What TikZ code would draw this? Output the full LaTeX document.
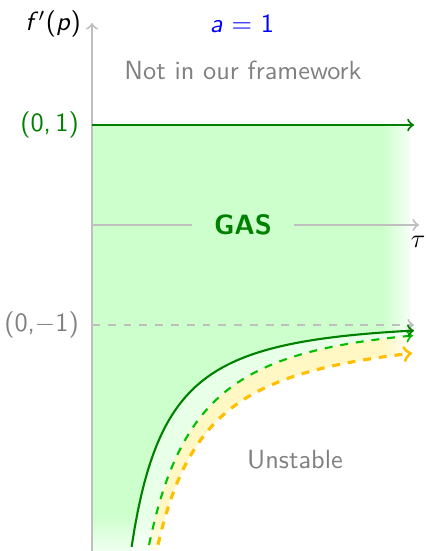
\documentclass[tikz,border=0pt]{standalone}
\usetikzlibrary{fadings}
\definecolor{gasgreen}{RGB}{204,255,204}
\definecolor{palegreen}{RGB}{232,255,232}
\definecolor{paleyellow}{RGB}{255,248,196}
\definecolor{darkgreen}{RGB}{0,128,0}
\definecolor{midgreen}{RGB}{0,191,0}
\definecolor{amber}{RGB}{255,191,0}
\definecolor{axisgray}{RGB}{191,191,191}
\definecolor{textgray}{RGB}{128,128,128}
\def\mycurveA#1{325+95/(exp(0.009*(#1-92))-1)}
\def\mycurveB#1{325+127/(exp(0.008*(#1-92))-1)}
\def\mycurveC#1{325+128/pow((#1-92)/100,1.3)}
\begin{document}
\begin{tikzpicture}[x=0.38pt,y=-0.38pt,font=\sffamily,
  axisline/.style={draw=axisgray,line width=0.75pt,->},
  solidcurve/.style={draw=darkgreen,line width=0.8pt,->},
  dashgreen/.style={draw=midgreen,line width=0.8pt,dashed,->},
  dashamber/.style={draw=amber,line width=1.2pt,dashed,->},
  lbl/.style={inner sep=1pt}]
\useasboundingbox (0,0) rectangle (425,551);
% regions
\fill[gasgreen] (92,125) -- (410,125) -- plot[domain=410:131.6,samples=90] (\x,{\mycurveA{\x}}) -- (131,551) -- (92,551) -- cycle;
\fill[palegreen] plot[domain=131.6:410,samples=90] (\x,{\mycurveA{\x}}) -- plot[domain=410:149,samples=90] (\x,{\mycurveB{\x}}) -- (149,551) -- (131,551) -- cycle;
\fill[paleyellow] plot[domain=149:410,samples=90] (\x,{\mycurveB{\x}}) -- plot[domain=410:158,samples=90] (\x,{\mycurveC{\x}}) -- (158,551) -- (149,551) -- cycle;
% fades
\fill[white,path fading=west] (382,120) rectangle (416,551);
\fill[white,path fading=north] (92,515) rectangle (420,565);
% coordinates
\coordinate (ybot) at (92,551);
\coordinate (ytop) at (92,23);
\coordinate (tauA) at (92,225);
\coordinate (tauB) at (419,225);
\coordinate (oneA) at (92,125);
\coordinate (oneB) at (414,125);
\coordinate (mA) at (92,325);
\coordinate (mB) at (414,325);
% axes
\draw[axisline] (ybot) -- (ytop);
\draw[axisline] (tauA) -- (tauB);
\node[fill=gasgreen,inner xsep=8.5pt,inner ysep=2pt,text=darkgreen,font=\sffamily\bfseries\fontsize{10.6}{12}\selectfont] (gas) at (243,225) {GAS};
\draw[axisline,dashed] (mA) -- (mB);
\draw[draw=darkgreen,line width=0.8pt,->] (oneA) -- (oneB);
% curves
\draw[dashamber] plot[domain=158:412,samples=90] (\x,{\mycurveC{\x}});
\draw[dashgreen] plot[domain=149:413,samples=90] (\x,{\mycurveB{\x}});
\draw[solidcurve] plot[domain=131.6:414,samples=90] (\x,{\mycurveA{\x}});
% labels
\node[lbl,anchor=east] (fp) at (84,24) {\textit{f}$'$(\textit{p})};
\node[lbl,text=blue] (a1) at (242,24) {\textit{a} = 1};
\node[lbl,text=textgray] (nf) at (243,70) {Not in our framework};
\node[lbl,anchor=east,text=darkgreen] (p1) at (82,125) {(0,\,1)};
\node[lbl,anchor=east,text=textgray] (m1) at (82,325) {(0,$-$1)};
\node[lbl,text=textgray] (un) at (295,460) {Unstable};
\node[lbl] (tau) at (418,242) {$\tau$};
\end{tikzpicture}
\end{document}
